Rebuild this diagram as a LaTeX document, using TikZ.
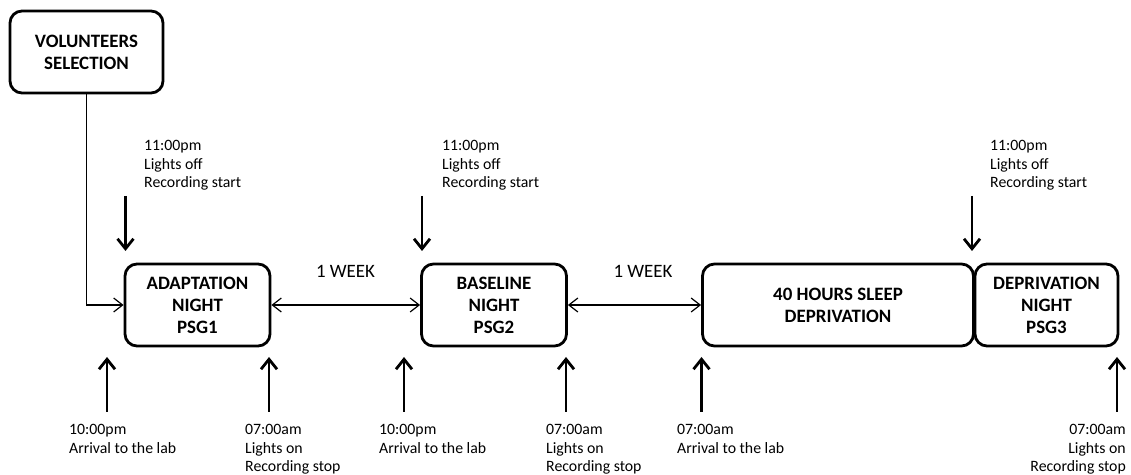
\documentclass[tikz,border=0pt]{standalone}
\usepackage{fontspec}
\setmainfont{Carlito}
\usetikzlibrary{arrows.meta}
\begin{document}
\begin{tikzpicture}[x=1bp,y=-1bp,
  box/.style={draw,line width=2.8bp,rounded corners=12bp,align=center,inner sep=0pt,
    minimum height=82bp,font=\fontsize{18.9bp}{22bp}\selectfont\bfseries},
  lab/.style={inner sep=0pt,font=\fontsize{15.8bp}{18.6bp}\selectfont},
  week/.style={inner sep=0pt,font=\fontsize{18.9bp}{22bp}\selectfont},
  thinarr/.style={line width=1.2bp,{Straight Barb[length=9bp,width=14bp]}-{Straight Barb[length=9bp,width=14bp]}},
  thickarr/.style={line width=2.8bp,-{Straight Barb[length=10bp,width=16bp]}}]
\useasboundingbox (0,0) rectangle (1131,475);
\node[box,minimum width=153bp] (vol) at (86.5,52) {VOLUNTEERS\\SELECTION};
\node[box,minimum width=145bp] (adapt) at (197.5,305) {ADAPTATION\\NIGHT\\PSG1};
\node[box,minimum width=145bp] (base) at (494,305) {BASELINE\\NIGHT\\PSG2};
\node[box,minimum width=271bp] (sleep) at (838,305) {40 HOURS SLEEP\\DEPRIVATION};
\node[box,minimum width=143bp] (depr) at (1046.5,305) {DEPRIVATION\\NIGHT\\PSG3};

\draw[line width=1.2bp,-{Straight Barb[length=9bp,width=14bp]}] (vol.south) |- (adapt.west);
\draw[thinarr] (adapt.east) -- (base.west);
\draw[thinarr] (base.east) -- (sleep.west);
\node[week] (w1) at (345.5,271) {1 WEEK};
\node[week] (w2) at (643,271) {1 WEEK};

% top labels
\node[lab,anchor=north west,align=left] (t1) at (144,140) {11:00pm\\Lights off\\Recording start};
\node[lab,anchor=north west,align=left] (t2) at (442,140) {11:00pm\\Lights off\\Recording start};
\node[lab,anchor=north west,align=left] (t3) at (990,140) {11:00pm\\Lights off\\Recording start};
\coordinate (d1s) at (125.5,196); \coordinate (d1e) at (125.5,251);
\coordinate (d2s) at (422,196); \coordinate (d2e) at (422,251);
\coordinate (d3s) at (972,196); \coordinate (d3e) at (972,251);
\draw[thickarr] (d1s) -- (d1e);
\draw[thickarr] (d2s) -- (d2e);
\draw[thickarr] (d3s) -- (d3e);

% bottom labels
\node[lab,anchor=north west,align=left] (b1) at (69,424) {10:00pm\\Arrival to the lab};
\node[lab,anchor=north west,align=left] (b2) at (245,424) {07:00am\\Lights on\\Recording stop};
\node[lab,anchor=north west,align=left] (b3) at (379,424) {10:00pm\\Arrival to the lab};
\node[lab,anchor=north west,align=left] (b4) at (546,424) {07:00am\\Lights on\\Recording stop};
\node[lab,anchor=north west,align=left] (b5) at (677,424) {07:00am\\Arrival to the lab};
\node[lab,anchor=north east,align=right] (b6) at (1126,424) {07:00am\\Lights on\\Recording stop};
\foreach \n/\x in {1/107,2/269,3/404,4/566,5/701.5,6/1117}{
  \coordinate (u\n s) at (\x,412); \coordinate (u\n e) at (\x,357);
  \draw[thickarr] (u\n s) -- (u\n e);
}
\end{tikzpicture}
\end{document}
